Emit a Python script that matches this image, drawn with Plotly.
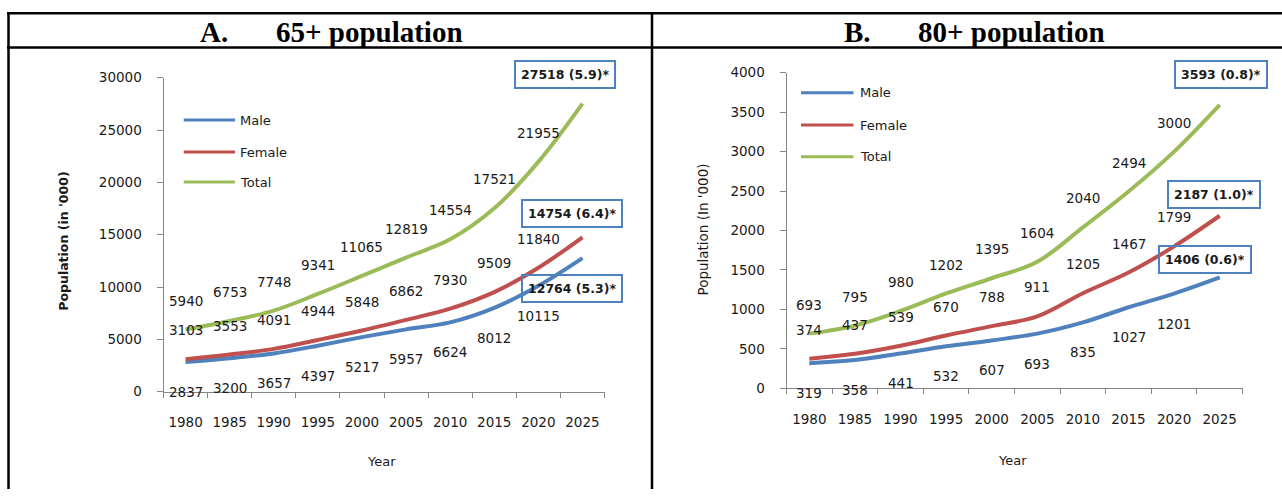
import plotly.graph_objects as go

# ---------------- data ----------------
years = ["1980", "1985", "1990", "1995", "2000", "2005", "2010", "2015", "2020", "2025"]

a_male = [2837, 3200, 3657, 4397, 5217, 5957, 6624, 8012, 10115, 12764]
a_female = [3103, 3553, 4091, 4944, 5848, 6862, 7930, 9509, 11840, 14754]
a_total = [5940, 6753, 7748, 9341, 11065, 12819, 14554, 17521, 21955, 27518]
a_share_2025 = [5.3, 6.4, 5.9]          # Male, Female, Total (%)

b_male = [319, 358, 441, 532, 607, 693, 835, 1027, 1201, 1406]
b_female = [374, 437, 539, 670, 788, 911, 1205, 1467, 1799, 2187]
b_total = [693, 795, 980, 1202, 1395, 1604, 2040, 2494, 3000, 3593]
b_share_2025 = [0.6, 1.0, 0.8]

series_names = ["Male", "Female", "Total"]
panel_titles = [("A.", "65+ population"), ("B.", "80+ population")]
y_titles = ["Population (in '000)", "Population (In '000)"]
x_title = "Year"

# ---------------- style ----------------
W, H = 1282, 497
COLORS = ["#4F81BD", "#C0504D", "#9BBB59"]
AXIS = "#868686"
TXT = "#1a1a1a"
FONT = "DejaVu Sans"
VS, VOFF = 0.9678, 8.0   # vertical mapping observed in the rendered snapshot


def px(x):
    return x / W


def py(t):
    return 1 - ((t - VOFF) / VS) / H


def sh(d):
    return d / VS


fig = go.Figure()

panels = [
    dict(xa="x", ya="y", data=[a_male, a_female, a_total], share=a_share_2025,
         xdom=(163.5, 604.5), ydom=(391.7, 77.7), yr=30000, dt=5000,
         box_off=[(-10, -29), (-10, 23), (-17.5, 28)],
         legend=(183.7, 235, 238.4, [120, 152, 182]),
         ytitle=(64, 241.7, True), xtitle=(381.4, 461.7),
         title=(198, 273.6)),
    dict(xa="x2", ya="y2", data=[b_male, b_female, b_total], share=b_share_2025,
         xdom=(786.5, 1242.5), ydom=(388.3, 72.7), yr=4000, dt=500,
         box_off=[(-15, 17.4), (-6, 21), (1.6, 29)],
         legend=(801, 853.5, 857.6, [92.7, 125, 156.7]),
         ytitle=(703.3, 229.2, False), xtitle=(1012.8, 460.7),
         title=(841.5, 916)),
]

annotations = []
shapes = []
label_shift = [-29, 28, 28]

for k, p in enumerate(panels):
    for s, vals in enumerate(p["data"]):
        fig.add_trace(go.Scatter(
            x=years, y=vals, mode="lines", name=series_names[s],
            line=dict(color=COLORS[s], width=4, shape="spline", smoothing=1),
            xaxis=p["xa"], yaxis=p["ya"], showlegend=False, hoverinfo="skip"))
        for i, v in enumerate(vals):
            if i < len(vals) - 1:
                annotations.append(dict(
                    x=i, y=v, xref=p["xa"], yref=p["ya"], text=str(v),
                    showarrow=False, yshift=sh(label_shift[s]), yanchor="middle",
                    font=dict(family=FONT, size=13.5, color=TXT)))
            else:
                dx, dy = p["box_off"][s]
                annotations.append(dict(
                    x=i, y=v, xref=p["xa"], yref=p["ya"],
                    text="<b>%d (%.1f)*</b>" % (v, p["share"][s]),
                    showarrow=False, xshift=dx, yshift=sh(dy), yanchor="middle",
                    bordercolor="#4F81BD", borderwidth=2, borderpad=5,
                    bgcolor="rgba(255,255,255,0)",
                    font=dict(family=FONT, size=12.5, color=TXT)))

    # legend (manual, inside plot area)
    lx0, lx1, tx, lys = p["legend"]
    for s in range(3):
        shapes.append(dict(type="line", xref="paper", yref="paper",
                           x0=px(lx0), x1=px(lx1), y0=py(lys[s]), y1=py(lys[s]),
                           line=dict(color=COLORS[s], width=3)))
        annotations.append(dict(x=px(tx), y=py(lys[s]), xref="paper", yref="paper",
                                text=series_names[s], showarrow=False,
                                xanchor="left", yanchor="middle",
                                font=dict(family=FONT, size=13, color=TXT)))

    # axis titles
    yx, yy, bold = p["ytitle"]
    annotations.append(dict(x=px(yx), y=py(yy), xref="paper", yref="paper",
                            text=("<b>%s</b>" % y_titles[k]) if bold else y_titles[k],
                            textangle=-90, showarrow=False,
                            xanchor="center", yanchor="middle",
                            font=dict(family=FONT, size=12.5 if bold else 13.5, color=TXT)))
    xx, xy = p["xtitle"]
    annotations.append(dict(x=px(xx), y=py(xy), xref="paper", yref="paper",
                            text=x_title, showarrow=False,
                            xanchor="center", yanchor="middle",
                            font=dict(family=FONT, size=13, color=TXT)))

    # panel header
    t1, t2 = p["title"]
    for txt, tx0 in zip(panel_titles[k], (t1, t2)):
        annotations.append(dict(x=px(tx0), y=py(32.0), xref="paper", yref="paper",
                                text="<b>%s</b>" % txt, showarrow=False,
                                xanchor="left", yanchor="middle",
                                font=dict(family="Liberation Serif", size=29, color="#000")))

    axis_common = dict(showgrid=False, zeroline=False, showline=True,
                       linecolor=AXIS, linewidth=1, ticks="outside",
                       tickcolor=AXIS, tickfont=dict(family=FONT, size=13.5, color=TXT))
    xkey = "xaxis" if k == 0 else "xaxis2"
    ykey = "yaxis" if k == 0 else "yaxis2"
    fig.update_layout(**{
        xkey: dict(axis_common, domain=[px(p["xdom"][0]), px(p["xdom"][1])],
                   anchor=p["ya"], type="category", categoryorder="array",
                   categoryarray=years, range=[-0.5, 9.5], tickson="boundaries",
                   ticklen=5, ticklabelstandoff=18),
        ykey: dict(axis_common, domain=[py(p["ydom"][0]), py(p["ydom"][1])],
                   anchor=p["xa"], range=[0, p["yr"]], dtick=p["dt"],
                   tickformat="d", ticklen=6, ticklabelstandoff=12),
    })

# table borders
LW = 2.5
shapes += [
    dict(type="line", xref="paper", yref="paper", x0=px(7), x1=1, y0=py(13.3), y1=py(13.3),
         line=dict(color="#000", width=LW)),
    dict(type="line", xref="paper", yref="paper", x0=px(7), x1=1, y0=py(47.6), y1=py(47.6),
         line=dict(color="#000", width=LW)),
    dict(type="line", xref="paper", yref="paper", x0=px(8.5), x1=px(8.5), y0=py(12.2), y1=0,
         line=dict(color="#000", width=LW)),
    dict(type="line", xref="paper", yref="paper", x0=px(652), x1=px(652), y0=py(12.2), y1=0,
         line=dict(color="#000", width=LW)),
]

fig.update_layout(width=W, height=H, margin=dict(l=0, r=0, t=0, b=0),
                  paper_bgcolor="white", plot_bgcolor="white",
                  annotations=annotations, shapes=shapes, showlegend=False)

fig.write_html(
    "out.html",
    config={"displayModeBar": False},
    post_script=(
        "var gd=document.getElementById('{plot_id}');"
        "gd.style.position='fixed';gd.style.top='0px';gd.style.left='0px';"
        "document.documentElement.style.margin='0';"
        "document.documentElement.style.overflow='hidden';"
        "document.body.style.margin='0';"
        "document.body.style.overflow='hidden';"
    ),
)
